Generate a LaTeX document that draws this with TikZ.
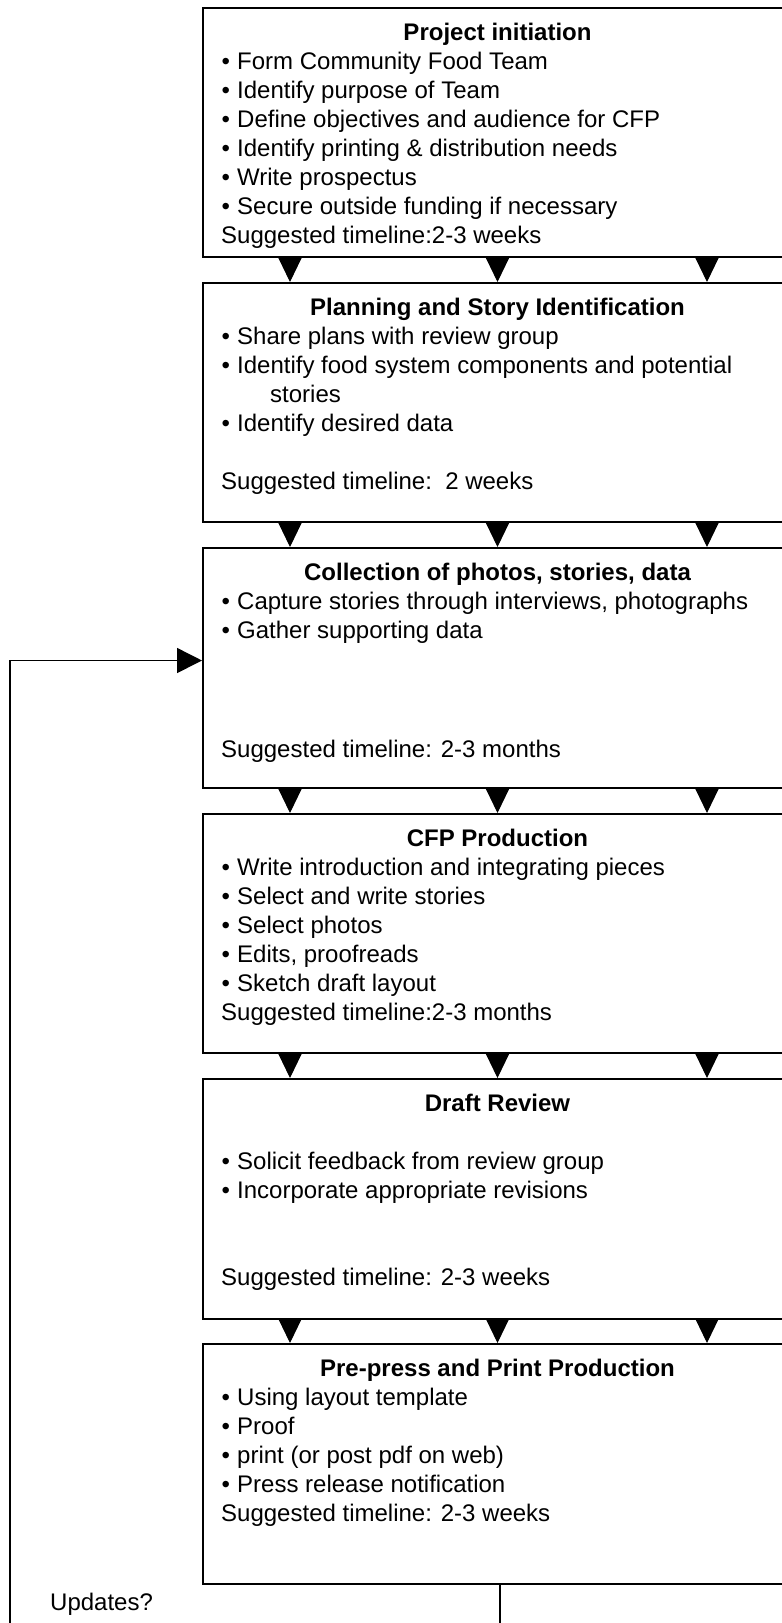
\documentclass[tikz,border=0pt]{standalone}
\usepackage{fontspec}
\setmainfont{Liberation Sans}
\usetikzlibrary{arrows.meta,calc}
\newcommand{\bul}{\makebox[16pt][l]{\hspace{0.5pt}•}}
\tikzset{
  stagebox/.style={draw, line width=1.5pt, inner sep=0pt, minimum width=591pt, anchor=north west},
  ttl/.style={font=\fontsize{24}{29}\selectfont\bfseries, inner sep=0pt, anchor=base},
  body/.style={font=\fontsize{24}{29}\selectfont, inner sep=0pt, anchor=base west},
  arr/.style={line width=1pt, -{Triangle[width=23pt,length=24pt]}},
  plain/.style={line width=1.5pt}
}
\newcommand{\lines}[1]{\parbox[t]{540pt}{\fontsize{24}{29}\selectfont #1}}
\begin{document}
\begin{tikzpicture}[x=1pt,y=-1pt]
\useasboundingbox (0,0) rectangle (782,1623);
\clip (0,0) rectangle (782,1623);
% boxes
\node[stagebox, minimum height=249pt] (b1) at (202,7) {};
\node[stagebox, minimum height=239pt] (b2) at (202,282) {};
\node[stagebox, minimum height=240pt] (b3) at (202,547) {};
\node[stagebox, minimum height=239pt] (b4) at (202,813) {};
\node[stagebox, minimum height=240pt] (b5) at (202,1078) {};
\node[stagebox, minimum height=240pt] (b6) at (202,1343) {};
% titles
\node[ttl] (h1) at (497.5,40) {Project initiation};
\node[ttl] (h2) at (497.5,315) {Planning and Story Identification};
\node[ttl] (h3) at (497.5,580) {Collection of photos, stories, data};
\node[ttl] (h4) at (497.5,846) {CFP Production};
\node[ttl] (h5) at (497.5,1111) {Draft Review};
\node[ttl] (h6) at (497.5,1376) {Pre-press and Print Production};
% bodies
\node[body] (t1) at (221,69) {\lines{\bul Form Community Food Team\\
\bul Identify purpose of Team\\
\bul Define objectives and audience for CFP\\
\bul Identify printing \& distribution needs\\
\bul Write prospectus\\
\bul Secure outside funding if necessary\\
Suggested timeline:2-3 weeks}};
\node[body] (t2) at (221,344) {\lines{\bul Share plans with review group\\
\bul Identify food system components and potential\\
\hspace*{49pt}stories\\
\bul Identify desired data\\
\mbox{}\\
Suggested timeline:\ \ 2 weeks}};
\node[body] (t3) at (221,609) {\lines{\bul Capture stories through interviews, photographs\\
\bul Gather supporting data\\
\mbox{}\\
\mbox{}\\
\mbox{}\\[3pt]
Suggested timeline: 2-3 months}};
\node[body] (t4) at (221,875) {\lines{\bul Write introduction and integrating pieces\\
\bul Select and write stories\\
\bul Select photos\\
\bul Edits, proofreads\\
\bul Sketch draft layout\\
Suggested timeline:2-3 months}};
\node[body] (t5) at (221,1140) {\lines{\mbox{}\\
\bul Solicit feedback from review group\\
\bul Incorporate appropriate revisions\\
\mbox{}\\
\mbox{}\\
Suggested timeline: 2-3 weeks}};
\node[body] (t6) at (221,1405) {\lines{\bul Using layout template\\
\bul Proof\\
\bul print (or post pdf on web)\\
\bul Press release notification\\
Suggested timeline: 2-3 weeks}};
\node[body] (upd) at (50,1610) {Updates?};
% arrow columns
\coordinate (ca) at (290,0);
\coordinate (cb) at (497.5,0);
\coordinate (cc) at (707,0);
\foreach \i/\j in {b1/b2,b2/b3,b3/b4,b4/b5,b5/b6}{
  \foreach \c in {ca,cb,cc}{
    \draw[arr] (\i.south -| \c) -- (\j.north -| \c);
  }
}
% feedback loop
\coordinate (lb) at (10,1630);
\coordinate (bb) at (500,1630);
\draw[plain] (b6.south -| bb) -- (bb);
\draw[plain, -{Triangle[width=25pt,length=25pt]}] (lb) |- ($(b3.north west)!0.47!(b3.south west)$);
\end{tikzpicture}
\end{document}
